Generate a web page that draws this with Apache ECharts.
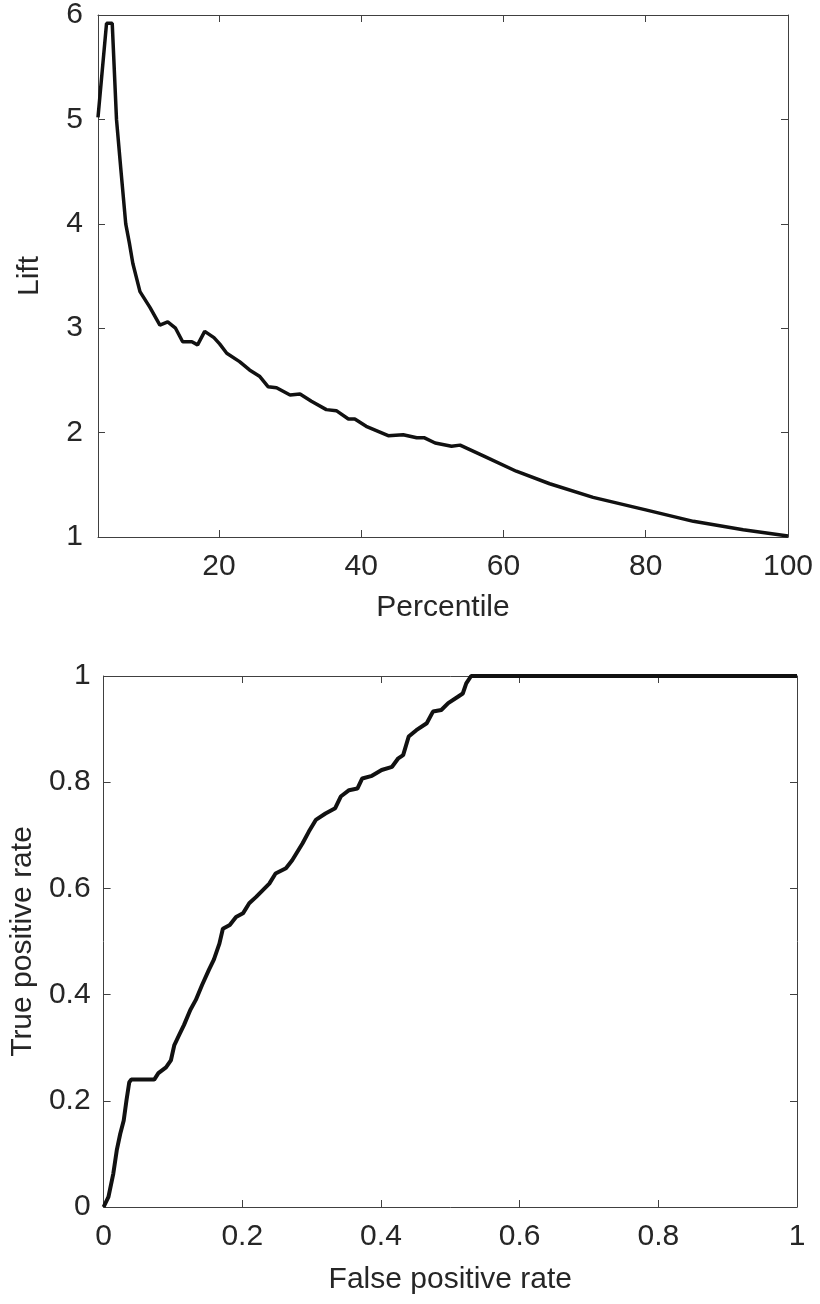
<!DOCTYPE html>
<html>
<head>
<meta charset="utf-8">
<script src="https://cdn.jsdelivr.net/npm/echarts@6/dist/echarts.min.js"></script>
<style>
  html, body { margin: 0; padding: 0; background: #fff; }
  #chart { width: 820px; height: 1304px; }
</style>
</head>
<body>
<div id="chart"></div>
<script>
// lift curve
const percentile = [3, 4.2, 5.0, 5.6, 6.2, 6.9, 7.4, 7.9, 8.9, 10.3, 11.7, 12.8, 13.9, 14.9, 16.2, 17.0, 18.0, 19.3, 20.1, 21.1, 22.9,
  24.3, 25.7, 26.9, 28.1, 30.0, 31.4, 33.0, 35.1, 36.5, 38.2, 39.1, 40.7, 43.8, 45.9, 47.8, 48.9, 50.4, 52.7, 53.9, 57.1,
  61.8, 66.5, 72.6, 80.0, 86.7, 93.7, 100];
const lift = [5.02, 5.92, 5.92, 5.0, 4.53, 4.0, 3.82, 3.62, 3.35, 3.2, 3.03, 3.06, 3.0, 2.87, 2.87, 2.84, 2.97, 2.91, 2.85, 2.76, 2.68,
  2.60, 2.54, 2.44, 2.43, 2.36, 2.37, 2.30, 2.22, 2.21, 2.13, 2.13, 2.06, 1.97, 1.98, 1.95, 1.95, 1.90, 1.87, 1.88, 1.78,
  1.63, 1.51, 1.38, 1.26, 1.15, 1.07, 1.01];

// ROC curve
const fpr = [0, 0.007, 0.014, 0.019, 0.024, 0.029, 0.033, 0.037, 0.04, 0.073, 0.079, 0.09, 0.097, 0.102, 0.109, 0.116, 0.125, 0.133, 0.142, 0.152,
  0.159, 0.167, 0.172, 0.182, 0.191, 0.201, 0.21, 0.22, 0.239, 0.248, 0.263, 0.272, 0.287, 0.296, 0.306, 0.32, 0.334, 0.342, 0.354, 0.366,
  0.373, 0.387, 0.401, 0.416, 0.425, 0.432, 0.44, 0.451, 0.466, 0.475, 0.487, 0.497, 0.511, 0.518, 0.523, 0.53, 1];
const tpr = [0, 0.019, 0.063, 0.107, 0.138, 0.163, 0.201, 0.235, 0.24, 0.24, 0.252, 0.263, 0.276, 0.305, 0.324, 0.343, 0.371, 0.39, 0.418, 0.447,
  0.466, 0.496, 0.524, 0.531, 0.546, 0.553, 0.572, 0.584, 0.609, 0.628, 0.638, 0.653, 0.685, 0.707, 0.729, 0.741, 0.751, 0.773, 0.785, 0.788,
  0.807, 0.812, 0.823, 0.829, 0.845, 0.851, 0.886, 0.898, 0.911, 0.933, 0.936, 0.949, 0.961, 0.967, 0.986, 1, 1];

const liftTicks = [20, 40, 60, 80, 100];

const font = 'Liberation Sans, Arial, sans-serif';
const fontSize = 30;
const textColor = '#262626';
const lineColor = '#404040';

function zip(a, b) {
  return a.map((v, i) => [v, b[i]]);
}

// box axis helper (MATLAB style: ticks inside on all four sides)
function axis(opts, mirror) {
  return Object.assign({
    type: 'value',
    axisLine: { show: true, onZero: false, lineStyle: { color: lineColor, width: 1 } },
    axisTick: { show: true, inside: true, length: 7, lineStyle: { color: lineColor } },
    axisLabel: { show: !mirror, fontFamily: font, fontSize: fontSize, color: textColor },
    splitLine: { show: false },
    nameTextStyle: { fontFamily: font, fontSize: fontSize, color: textColor }
  }, opts);
}

const chart = echarts.init(document.getElementById('chart'));

chart.setOption({
  animation: false,
  backgroundColor: '#fff',
  grid: [
    { left: 98, right: 32, top: 12, height: 525 },
    { left: 100, right: 23, top: 676, height: 531 }
  ],
  xAxis: [
    axis({ gridIndex: 0, min: 3, max: 100, position: 'bottom', name: 'Percentile', nameLocation: 'middle', nameGap: 56,
      axisLabel: { customValues: liftTicks, margin: 15, fontFamily: font, fontSize: fontSize, color: textColor },
      axisTick: { customValues: liftTicks, inside: true, length: 7, lineStyle: { color: lineColor } } }),
    axis({ gridIndex: 0, min: 3, max: 100, position: 'top',
      axisTick: { customValues: liftTicks, inside: true, length: 7, lineStyle: { color: lineColor } } }, true),
    axis({ gridIndex: 1, min: 0, max: 1, interval: 0.2, position: 'bottom', name: 'False positive rate', nameLocation: 'middle', nameGap: 58,
      axisLabel: { margin: 15, fontFamily: font, fontSize: fontSize, color: textColor } }),
    axis({ gridIndex: 1, min: 0, max: 1, interval: 0.2, position: 'top' }, true)
  ],
  yAxis: [
    axis({ gridIndex: 0, min: 1, max: 6, interval: 1, position: 'left', name: 'Lift', nameLocation: 'middle', nameGap: 53,
      axisLabel: { margin: 15, fontFamily: font, fontSize: fontSize, color: textColor } }),
    axis({ gridIndex: 0, min: 1, max: 6, interval: 1, position: 'right' }, true),
    axis({ gridIndex: 1, min: 0, max: 1, interval: 0.2, position: 'left', name: 'True positive rate', nameLocation: 'middle', nameGap: 55,
      axisLabel: { margin: 13, fontFamily: font, fontSize: fontSize, color: textColor } }),
    axis({ gridIndex: 1, min: 0, max: 1, interval: 0.2, position: 'right' }, true)
  ],
  series: [
    {
      type: 'line',
      xAxisIndex: 0,
      yAxisIndex: 0,
      data: zip(percentile, lift),
      showSymbol: false,
      lineStyle: { color: '#111', width: 3.5 }
    },
    {
      type: 'line',
      xAxisIndex: 2,
      yAxisIndex: 2,
      data: zip(fpr, tpr),
      showSymbol: false,
      clip: false,
      lineStyle: { color: '#111', width: 4 }
    }
  ]
});
</script>
</body>
</html>
